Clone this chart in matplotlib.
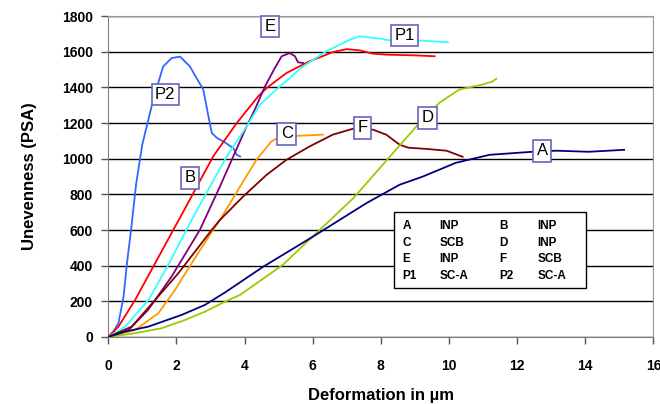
"""
Unevenness vs deformation curves for samples A-F, P1, P2.
"""

import matplotlib

matplotlib.use("Agg")
import matplotlib.pyplot as plt
from matplotlib.patches import Rectangle

plt.rcParams["font.family"] = ["Liberation Sans", "DejaVu Sans"]

# curve data (deformation in um, unevenness in PSA)
p2_x = [0, 0.15, 0.3, 0.45, 0.55, 0.67, 0.82, 1.0, 1.32, 1.61, 1.86, 2.11, 2.4, 2.6, 2.79, 2.94, 3.04, 3.2, 3.38, 3.67, 3.77, 3.87]
p2_y = [0, 30, 77, 226, 415, 601, 860, 1080, 1331, 1517, 1565, 1573, 1517, 1450, 1388, 1238, 1144, 1115, 1097, 1060, 1022, 1013]

b_x = [0, 0.3, 0.79, 1.38, 1.91, 2.11, 2.55, 3.08, 3.77, 4.4, 4.65, 5.23, 5.91, 6.59, 6.99, 7.38, 7.76, 8.17, 9.0, 9.58]
b_y = [0, 58, 208, 415, 601, 670, 826, 1013, 1200, 1350, 1397, 1481, 1547, 1598, 1615, 1608, 1590, 1584, 1580, 1575]

e_x = [0, 0.6, 1.17, 1.86, 2.69, 3.28, 3.67, 4.06, 4.3, 4.6, 4.89, 5.09, 5.33, 5.48, 5.57, 5.72]
e_y = [0, 39, 152, 339, 601, 845, 1013, 1181, 1275, 1406, 1509, 1575, 1593, 1575, 1541, 1537]

p1_x = [0, 0.5, 1.18, 1.75, 2.4, 2.99, 3.48, 4.06, 4.45, 5.04, 5.72, 6.4, 7.09, 7.38, 7.96, 8.3, 9.22, 9.97]
p1_y = [0, 58, 208, 400, 640, 845, 1013, 1181, 1303, 1406, 1518, 1603, 1668, 1687, 1674, 1663, 1663, 1653]

c_x = [0, 0.79, 1.47, 1.96, 2.45, 3.08, 3.28, 3.87, 4.35, 4.79, 5.04, 5.62, 6.3]
c_y = [0, 39, 133, 264, 414, 601, 657, 844, 994, 1097, 1124, 1129, 1135]

f_x = [0, 0.69, 1.38, 2.06, 3.04, 3.28, 3.96, 4.65, 5.23, 5.91, 6.59, 7.18, 7.77, 8.16, 8.55, 8.8, 9.34, 9.93, 10.4]
f_y = [0, 58, 208, 358, 601, 657, 788, 910, 994, 1069, 1135, 1168, 1163, 1135, 1079, 1062, 1055, 1045, 1011]

d_x = [0, 0.79, 1.57, 2.25, 2.84, 3.43, 3.87, 5.12, 6.21, 7.2, 7.67, 8.26, 9.14, 9.72, 10.3, 10.98, 11.27, 11.39]
d_y = [0, 21, 49, 95, 142, 198, 236, 404, 601, 780, 882, 1011, 1202, 1314, 1388, 1416, 1433, 1449]

a_x = [0, 0.5, 1.18, 2.16, 2.84, 3.43, 4.54, 6.0, 7.58, 8.55, 9.22, 10.2, 11.19, 12.45, 13.15, 14.11, 15.14]
a_y = [0, 30, 58, 124, 180, 250, 393, 562, 751, 854, 899, 977, 1022, 1039, 1045, 1039, 1050]

curves = {
    "P2": (p2_x, p2_y, "#3366FF"),
    "B": (b_x, b_y, "#FF0000"),
    "E": (e_x, e_y, "#800080"),
    "P1": (p1_x, p1_y, "#33FFFF"),
    "C": (c_x, c_y, "#FF9900"),
    "F": (f_x, f_y, "#800000"),
    "D": (d_x, d_y, "#99CC00"),
    "A": (a_x, a_y, "#000080"),
}

# where the boxed curve names sit
label_pos = {
    "P2": (1.67, 1360),
    "B": (2.4, 893),
    "E": (4.74, 1742),
    "C": (5.24, 1140),
    "F": (7.47, 1174),
    "P1": (8.7, 1691),
    "D": (9.37, 1230),
    "A": (12.74, 1045),
}

legend_rows = [
    ["A", "INP", "B", "INP"],
    ["C", "SCB", "D", "INP"],
    ["E", "INP", "F", "SCB"],
    ["P1", "SC-A", "P2", "SC-A"],
]

fig = plt.figure(figsize=(6.6, 4.04), dpi=100)
ax = fig.add_axes([0.164, 0.166, 0.826, 0.794])

for name, (xs, ys, color) in curves.items():
    ax.plot(xs, ys, color=color, linewidth=1.3, solid_joinstyle="round", zorder=3)

for name, (lx, ly) in label_pos.items():
    ax.text(lx, ly, name, ha="center", va="center", fontsize=12, zorder=5,
            bbox=dict(boxstyle="square,pad=0.2", facecolor="white",
                      edgecolor="#6666BB", linewidth=1.2))

# legend-like table of sample types
ax.add_patch(Rectangle((0.525, 0.152), 0.352, 0.238, transform=ax.transAxes,
                       facecolor="white", edgecolor="black", linewidth=1, zorder=4))
col_x = [0.540, 0.608, 0.718, 0.787]
for i, row in enumerate(legend_rows):
    yy = 0.346 - i * 0.052
    for j, txt in enumerate(row):
        ax.text(col_x[j], yy, txt, transform=ax.transAxes, ha="left", va="center",
                fontsize=8.5, fontweight="bold", zorder=5)

ax.set_xlim(0, 16)
ax.set_ylim(0, 1800)
ax.set_xticks(range(0, 17, 2))
ax.set_yticks(range(0, 1801, 200))
ax.yaxis.grid(True, color="black", linewidth=1)
ax.set_axisbelow(True)

for side in ["top", "right"]:
    ax.spines[side].set_color("#999999")
ax.spines["left"].set_color("#808080")
ax.spines["bottom"].set_color("#808080")
ax.tick_params(direction="out", length=5, color="#555555", width=1, labelsize=10)
ax.tick_params(axis="x", pad=11)
ax.tick_params(axis="y", pad=6)
for lab in ax.get_xticklabels() + ax.get_yticklabels():
    lab.set_fontweight("bold")

ax.set_xlabel("Deformation in µm", fontsize=12, fontweight="bold", labelpad=11)
ax.set_ylabel("Unevenness (PSA)", fontsize=12, fontweight="bold", labelpad=18)

fig.savefig("out.png", dpi=100)
